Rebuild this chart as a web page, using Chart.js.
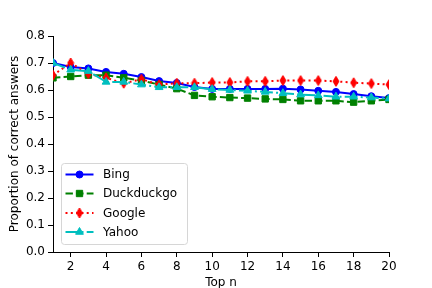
<!DOCTYPE html>
<html>
<head>
<meta charset="utf-8">
<script src="https://cdn.jsdelivr.net/npm/chart.js@4/dist/chart.umd.min.js"></script>
<style>
html,body{margin:0;padding:0;background:#fff;}
canvas{display:block;}
</style>
</head>
<body>
<canvas id="c" width="432" height="288"></canvas>
<script>
// ---- data ----
const topN = [1,2,3,4,5,6,7,8,9,10,11,12,13,14,15,16,17,18,19,20];
const bing = [0.700,0.685,0.680,0.667,0.660,0.648,0.633,0.626,0.611,0.604,0.604,0.604,0.604,0.605,0.602,0.597,0.593,0.585,0.577,0.570];
const duckduckgo = [0.645,0.650,0.655,0.655,0.645,0.635,0.620,0.605,0.580,0.575,0.572,0.570,0.567,0.565,0.560,0.560,0.560,0.555,0.560,0.565];
const google = [0.655,0.700,0.660,0.645,0.625,0.640,0.620,0.625,0.625,0.628,0.628,0.632,0.632,0.635,0.635,0.635,0.632,0.627,0.624,0.620];
const yahoo = [0.700,0.675,0.670,0.630,0.630,0.620,0.610,0.610,0.610,0.603,0.600,0.597,0.593,0.588,0.583,0.580,0.575,0.575,0.572,0.568];
const seriesNames = ['Bing','Duckduckgo','Google','Yahoo'];
const xTicks = [2,4,6,8,10,12,14,16,18,20];
const yTicks = [0.0,0.1,0.2,0.3,0.4,0.5,0.6,0.7,0.8];

// thin diamond marker image
function thinDiamond(color){
  const w = 8, h = 12;
  const cv = document.createElement('canvas');
  cv.width = w; cv.height = h;
  const g = cv.getContext('2d');
  g.beginPath();
  g.moveTo(w/2, 1); g.lineTo(w-1, h/2); g.lineTo(w/2, h-1); g.lineTo(1, h/2); g.closePath();
  g.fillStyle = color; g.fill();
  g.strokeStyle = color; g.lineWidth = 1; g.stroke();
  return cv;
}
const diamondImg = thinDiamond('#ff0000');

const FONT = "'DejaVu Sans', sans-serif";
const styles = [
  {color:'#0000ff', dash:[], pointStyle:'circle', radius:3.5},
  {color:'#008000', dash:[7.4,3.2], pointStyle:'rect', radius:4.5},
  {color:'#ff0000', dash:[2,3.3], pointStyle:diamondImg, radius:5},
  {color:'#00bfbf', dash:[12.8,3.2,2,3.2], pointStyle:'triangle', radius:4.5}
];
const values = [bing, duckduckgo, google, yahoo];

const datasets = values.map((vals, i) => ({
  label: seriesNames[i],
  data: topN.map((x, j) => ({x: x, y: vals[j]})),
  borderColor: styles[i].color,
  backgroundColor: styles[i].color,
  borderWidth: 2,
  borderDash: styles[i].dash,
  pointStyle: styles[i].pointStyle,
  pointRadius: styles[i].radius,
  pointBorderWidth: 1,
  pointBackgroundColor: styles[i].color,
  pointBorderColor: styles[i].color,
  tension: 0,
  clip: 0,
  order: 3 - i
}));

const legendPlugin = {
  id: 'mplLegend',
  afterDraw(chart){
    const ctx = chart.ctx;
    const ca = chart.chartArea;
    const bx = ca.left + 8.5, by = ca.bottom - 88.5, bw = 126, bh = 81;
    ctx.save();
    ctx.beginPath();
    if (ctx.roundRect) ctx.roundRect(bx, by, bw, bh, 3); else ctx.rect(bx, by, bw, bh);
    ctx.fillStyle = 'rgba(255,255,255,0.8)';
    ctx.fill();
    ctx.strokeStyle = '#d6d6d6';
    ctx.lineWidth = 1;
    ctx.stroke();
    const rowY = [by + 11, by + 30, by + 49.5, by + 68.5];
    seriesNames.forEach((name, i) => {
      const y = rowY[i];
      const st = styles[i];
      ctx.beginPath();
      ctx.setLineDash(st.dash);
      ctx.strokeStyle = st.color;
      ctx.lineWidth = 2;
      ctx.moveTo(bx + 4, y); ctx.lineTo(bx + 32, y);
      ctx.stroke();
      ctx.setLineDash([]);
      ctx.fillStyle = st.color;
      ctx.strokeStyle = st.color;
      ctx.lineWidth = 1;
      Chart.helpers.drawPoint(ctx, {pointStyle: st.pointStyle, radius: st.radius, rotation: 0, borderWidth: 1}, bx + 18, y);
      ctx.fillStyle = '#000';
      ctx.font = '12px ' + FONT;
      ctx.textBaseline = 'middle';
      ctx.textAlign = 'left';
      ctx.fillText(name, bx + 41.5, y + 0.5);
    });
    ctx.restore();
  }
};

new Chart(document.getElementById('c'), {
  type: 'line',
  data: { datasets: datasets },
  plugins: [legendPlugin],
  options: {
    responsive: false,
    animation: false,
    devicePixelRatio: 1,
    layout: { padding: { left: 0, right: 43, top: 36, bottom: 0 } },
    plugins: { legend: { display: false }, tooltip: { enabled: false } },
    scales: {
      x: {
        type: 'linear',
        min: 1, max: 20,
        afterBuildTicks(scale){ scale.ticks = xTicks.map(v => ({value: v})); },
        afterFit(scale){ scale.height = 36; },
        grid: { drawOnChartArea: false, drawTicks: true, tickLength: 5, color: '#000', tickWidth: 1 },
        border: { display: true, color: '#000', width: 1 },
        ticks: { color: '#000', font: { family: FONT, size: 12 }, padding: 3, maxRotation: 0, autoSkip: false,
                 callback: v => String(v) },
        title: { display: true, text: 'Top n', color: '#000', font: { family: FONT, size: 12 }, padding: { top: 0, bottom: -2 } }
      },
      y: {
        type: 'linear',
        min: 0, max: 0.8,
        afterBuildTicks(scale){ scale.ticks = yTicks.map(v => ({value: v})); },
        afterFit(scale){ scale.width = 53; },
        grid: { drawOnChartArea: false, drawTicks: true, tickLength: 5, color: '#000', tickWidth: 1 },
        border: { display: true, color: '#000', width: 1 },
        ticks: { color: '#000', font: { family: FONT, size: 12 }, padding: 3, autoSkip: false,
                 callback: v => Number(v).toFixed(1) },
        title: { display: true, text: 'Proportion of correct answers', color: '#000', font: { family: FONT, size: 12 }, padding: { top: 8, bottom: 0 } }
      }
    }
  }
});
</script>
</body>
</html>
